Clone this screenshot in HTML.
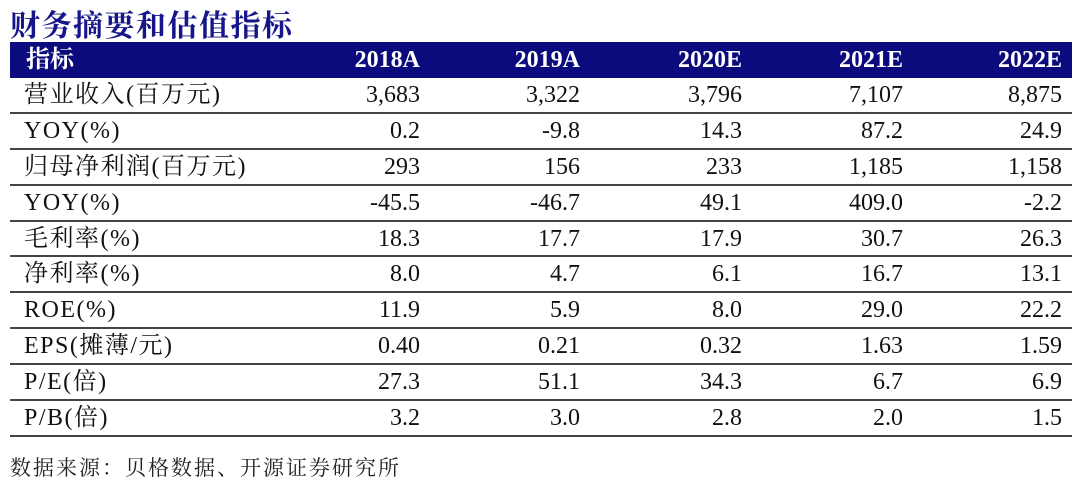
<!DOCTYPE html>
<html><head><meta charset="utf-8"><style>
body{margin:0;width:1080px;height:490px;background:#fff;overflow:hidden;font-family:"Liberation Serif","Noto Serif CJK SC",serif;}
.title{position:absolute;left:10px;top:1px;font-size:30px;letter-spacing:1.5px;font-weight:bold;color:#16168a;font-family:"Liberation Serif","Noto Serif CJK SC",serif;}
table{position:absolute;left:10px;top:42px;width:1062px;border-collapse:collapse;}
th{background:#0b0b7d;color:#fff;font-size:24px;font-weight:bold;height:36px;line-height:36px;padding:0;text-align:right;}
th:first-child{text-align:left;padding-left:16px;}
td{font-size:24px;color:#111;height:33.9px;line-height:30px;padding:0;text-align:right;border-bottom:2px solid #444;vertical-align:middle;}
td:first-child{text-align:left;padding-left:14px;letter-spacing:1.5px;}
th:last-child,td:last-child{padding-right:10px;}
.src{position:absolute;left:10px;top:452px;font-size:21px;letter-spacing:2px;color:#222;}
</style></head><body>
<div class="title">财务摘要和估值指标</div>
<table>
<colgroup><col style="width:250px"><col style="width:160px"><col style="width:160px"><col style="width:162px"><col style="width:161px"><col></colgroup>
<tr><th>指标</th><th>2018A</th><th>2019A</th><th>2020E</th><th>2021E</th><th>2022E</th></tr>
<tr><td>营业收入(百万元)</td><td>3,683</td><td>3,322</td><td>3,796</td><td>7,107</td><td>8,875</td></tr>
<tr><td>YOY(%)</td><td>0.2</td><td>-9.8</td><td>14.3</td><td>87.2</td><td>24.9</td></tr>
<tr><td>归母净利润(百万元)</td><td>293</td><td>156</td><td>233</td><td>1,185</td><td>1,158</td></tr>
<tr><td>YOY(%)</td><td>-45.5</td><td>-46.7</td><td>49.1</td><td>409.0</td><td>-2.2</td></tr>
<tr><td>毛利率(%)</td><td>18.3</td><td>17.7</td><td>17.9</td><td>30.7</td><td>26.3</td></tr>
<tr><td>净利率(%)</td><td>8.0</td><td>4.7</td><td>6.1</td><td>16.7</td><td>13.1</td></tr>
<tr><td>ROE(%)</td><td>11.9</td><td>5.9</td><td>8.0</td><td>29.0</td><td>22.2</td></tr>
<tr><td>EPS(摊薄/元)</td><td>0.40</td><td>0.21</td><td>0.32</td><td>1.63</td><td>1.59</td></tr>
<tr><td>P/E(倍)</td><td>27.3</td><td>51.1</td><td>34.3</td><td>6.7</td><td>6.9</td></tr>
<tr><td>P/B(倍)</td><td>3.2</td><td>3.0</td><td>2.8</td><td>2.0</td><td>1.5</td></tr>
</table>
<div class="src">数据来源：贝格数据、开源证券研究所</div>
</body></html>
